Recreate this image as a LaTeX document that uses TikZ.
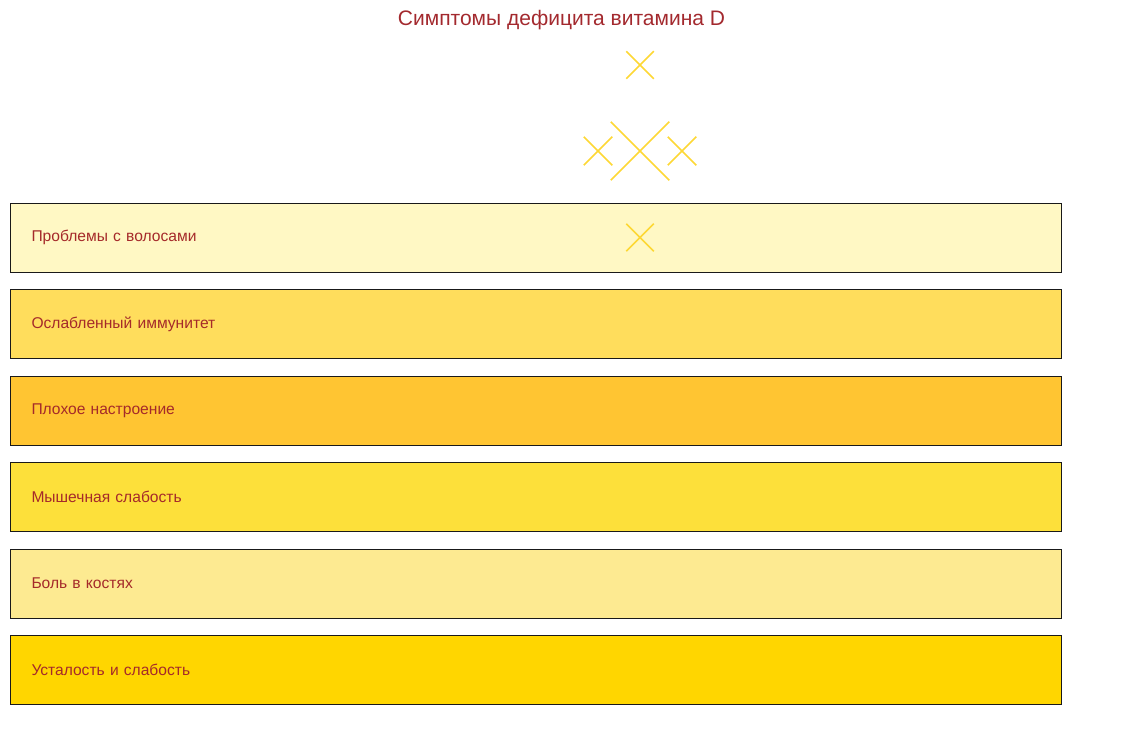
\documentclass[tikz,border=0pt]{standalone}
\usepackage{fontspec}
\setmainfont{Liberation Sans}
\usetikzlibrary{positioning,shapes.misc}

\definecolor{titlered}{HTML}{A3292E}
\definecolor{textred}{HTML}{A52A2A}
\definecolor{markyellow}{HTML}{FDD835}
\definecolor{hairfill}{HTML}{FFF8C4}
\definecolor{immunefill}{HTML}{FFDD5C}
\definecolor{moodfill}{HTML}{FFC532}
\definecolor{musclefill}{HTML}{FDE03A}
\definecolor{bonefill}{HTML}{FDEA91}
\definecolor{tiredfill}{HTML}{FFD600}

\begin{document}
\begin{tikzpicture}[x=1pt,y=-1pt,node distance=16.5pt,
                    sym box/.style={draw=black!90,line width=1pt,minimum height=69pt,
                      text width=1009pt,inner xsep=21pt,align=left,
                      font=\fontsize{15.6}{18}\selectfont,text=textred},
                    spark/.style={cross out,draw=markyellow,line width=1.5pt,inner sep=0pt,
                      minimum size=#1}]
  \useasboundingbox (0,0) rectangle (1123,746);

  \node[font=\fontsize{21}{25}\selectfont,text=titlered] (title) at (561.5,20) {Симптомы дефицита витамина D};

  \node[sym box,fill=hairfill] (hair) at (536,237.5) {Проблемы с волосами};
  \node[sym box,fill=immunefill] (immune) [below=of hair] {Ослабленный иммунитет};
  \node[sym box,fill=moodfill] (mood) [below=of immune] {Плохое настроение};
  \node[sym box,fill=musclefill] (muscle) [below=of mood] {Мышечная слабость};
  \node[sym box,fill=bonefill] (bone) [below=of muscle] {Боль в костях};
  \node[sym box,fill=tiredfill] (tired) [below=of bone] {Усталость и слабость};

  % sparkle marks
  \node[spark=26pt] (top) at (640,65) {};
  \node[spark=57pt] (big) at (640,151) {};
  \node[spark=27pt] (left) at (598,151) {};
  \node[spark=27pt] (right) at (682,151) {};
  \node[spark=26pt] (low) at (640,237.5) {};
\end{tikzpicture}
\end{document}
